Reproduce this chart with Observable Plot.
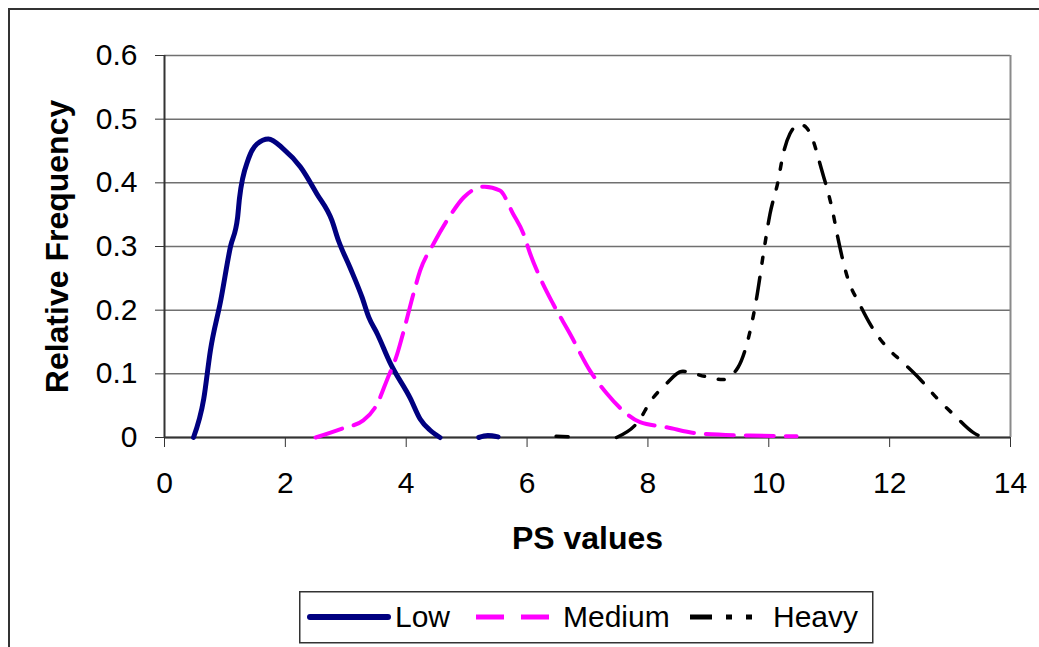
<!DOCTYPE html>
<html><head><meta charset="utf-8">
<script src="https://cdn.jsdelivr.net/npm/d3@7"></script>
<script src="https://cdn.jsdelivr.net/npm/@observablehq/plot@0.6"></script>
<style>
html,body{margin:0;padding:0;background:#fff;overflow:hidden;width:1039px;height:647px}
#wrap{position:relative;width:1039px;height:647px;font-family:"Liberation Sans",Arial,sans-serif}
#frame{position:absolute;left:8px;top:8px;width:1100px;height:700px;border:2px solid #333;box-sizing:border-box}
#chart{position:absolute;left:0;top:0}
#legend{position:absolute;left:299px;top:591px}
</style>
</head><body>
<div id="wrap"><div id="frame"></div><div id="chart"></div><div id="legend"></div></div>
<script>
// ---- data (null = no line drawn) ----
const seriesNames = ["Low", "Medium", "Heavy"];
const seriesColors = ["#000080", "#FF00FF", "#000000"];
const seriesDash = [null, "28,12", "22,14,6,14,6,14"];
const seriesWidth = [5, 4, 3.5];

const lowX = [0.48,0.65,0.76,0.93,1.09,1.21,1.24,1.39,1.53,1.72,1.97,2.25,2.52,2.77,2.88,3.07,3.27,3.38,3.52,3.74,4.07,4.23,4.40,4.56,4.9,5.20,5.35,5.52];
const lowY = [0,0.061,0.137,0.215,0.299,0.346,0.375,0.438,0.461,0.469,0.453,0.425,0.383,0.341,0.309,0.267,0.220,0.189,0.163,0.116,0.061,0.029,0.011,0,null,0,0.003,0.001];

const mediumX = [2.50,2.94,3.29,3.52,3.68,3.85,3.96,4.12,4.23,4.45,4.73,4.95,5.30,5.55,5.77,5.94,6.05,6.21,6.43,6.71,7.04,7.32,7.59,7.87,8.31,8.86,9.69,10.46];
const mediumY = [0,0.014,0.027,0.053,0.090,0.131,0.168,0.226,0.262,0.304,0.349,0.377,0.394,0.388,0.351,0.320,0.289,0.252,0.210,0.163,0.105,0.069,0.042,0.024,0.016,0.006,0.003,0.002];

const heavyX = [6.48,6.68,7.0,7.48,7.87,8.03,8.28,8.58,8.94,9.24,9.49,9.66,9.80,9.91,10.02,10.15,10.24,10.35,10.51,10.62,10.71,10.87,11.06,11.14,11.31,11.50,11.69,11.95,12.22,12.50,12.77,13.07,13.38,13.54];
const heavyY = [0.002,0.001,null,0,0.029,0.055,0.082,0.104,0.096,0.091,0.110,0.155,0.220,0.288,0.351,0.401,0.446,0.477,0.492,0.487,0.472,0.422,0.354,0.315,0.249,0.210,0.176,0.142,0.118,0.092,0.063,0.035,0.008,0];

const xTicks = [0,2,4,6,8,10,12,14];
const yTicks = [0,0.1,0.2,0.3,0.4,0.5,0.6];
const xTitle = "PS values";
const yTitle = "Relative Frequency";

// ---- build ----
const seriesXs = [lowX, mediumX, heavyX];
const seriesYs = [lowY, mediumY, heavyY];
const tables = seriesNames.map((name, s) => seriesXs[s].map((x, i) => ({series: name, x, y: seriesYs[s][i]})));

const font = '"Liberation Sans", Arial, sans-serif';
const fmt = d => String(+d.toFixed(1));

const lineMarks = tables.map((rows, s) => Plot.line(rows, {
  x: "x", y: "y", curve: "monotone-x",
  stroke: seriesColors[s], strokeWidth: seriesWidth[s],
  strokeDasharray: seriesDash[s] || undefined, strokeLinejoin: "round"
}));

const chart = Plot.plot({
  width: 1039, height: 580,
  marginLeft: 164, marginRight: 29, marginTop: 55, marginBottom: 143,
  style: {fontFamily: font, background: "transparent", overflow: "visible", color: "#000"},
  x: {domain: [0, 14]},
  y: {domain: [0, 0.6]},
  marks: [
    Plot.gridY(yTicks, {stroke: "#707070", strokeOpacity: 1, strokeWidth: 1.5}),
    Plot.ruleX([14], {stroke: "#8a8a8a", strokeWidth: 2}),
    Plot.axisX(xTicks, {tickSize: 10, tickPadding: 24, fontSize: 30, tickFormat: fmt, stroke: "#333", fill: "#000", label: null}),
    Plot.axisY(yTicks, {tickSize: 9, tickPadding: 18, fontSize: 30, tickFormat: fmt, stroke: "#333", fill: "#000", label: null}),
    Plot.ruleY([0], {stroke: "#333", strokeWidth: 2}),
    Plot.ruleX([0], {stroke: "#333", strokeWidth: 2}),
    ...lineMarks,
    Plot.text([xTitle], {frameAnchor: "bottom", lineAnchor: "middle", dy: 101, fontSize: 32, fontWeight: "bold", fill: "#000"}),
    Plot.text([yTitle], {frameAnchor: "left", rotate: -90, textAnchor: "middle", lineAnchor: "middle", dx: -107, fontSize: 32, fontWeight: "bold", fill: "#000"})
  ]
});
document.getElementById("chart").appendChild(chart);

// ---- legend ----
const lg = d3.select("#legend").append("svg").attr("width", 575).attr("height", 53)
  .style("font-family", font).style("overflow", "visible");
lg.append("rect").attr("x", 0.75).attr("y", 0.75).attr("width", 573).attr("height", 51)
  .attr("fill", "#fff").attr("stroke", "#333").attr("stroke-width", 1.5);
const sw = [[11, 89, 96], [177, 250, 264], [391, 456, 474]];
seriesNames.forEach((name, s) => {
  lg.append("line").attr("x1", sw[s][0]).attr("x2", sw[s][1]).attr("y1", 26).attr("y2", 26)
    .attr("stroke", seriesColors[s]).attr("stroke-width", s === 0 ? 6 : 5)
    .attr("stroke-linecap", s === 0 ? "round" : "butt")
    .attr("stroke-dasharray", s === 0 ? null : (s === 1 ? "28,17" : "22,14,6,14,6,14"));
  lg.append("text").attr("x", sw[s][2]).attr("y", 36).attr("font-size", 30).attr("fill", "#000").text(name);
});
</script>
</body></html>
